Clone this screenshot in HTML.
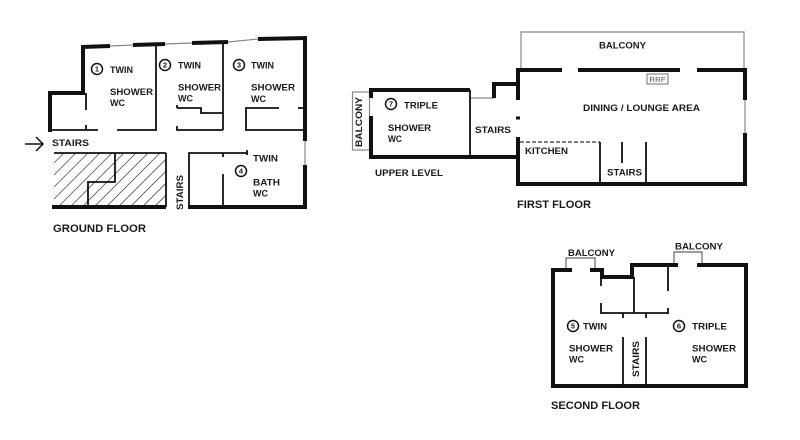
<!DOCTYPE html>
<html><head><meta charset="utf-8"><style>
html,body{margin:0;padding:0;background:#fff;}
svg{display:block;}
text{font-family:"Liberation Sans",Arial,sans-serif;font-weight:bold;fill:#1a1a1a;font-size:9.5px;}
text.t{font-size:11px;}
text.n{font-size:7.5px;text-anchor:middle;}
text.s{font-size:7px;font-weight:normal;fill:#555;}
</style></head><body>
<svg width="800" height="440" viewBox="0 0 800 440" xmlns="http://www.w3.org/2000/svg">
<defs>
<pattern id="h" patternUnits="userSpaceOnUse" width="8.5" height="8.5" patternTransform="rotate(45)">
<line x1="0" y1="0" x2="0" y2="8.5" stroke="#222" stroke-width="1.3"/>
</pattern>
</defs>
<rect width="800" height="440" fill="#fff"/>

<!-- ================= GROUND FLOOR ================= -->
<rect x="54" y="153" width="112" height="54" fill="url(#h)"/>
<g fill="none" stroke="#888" stroke-width="1.2">
<line x1="110" y1="46" x2="133" y2="45"/>
<line x1="165" y1="44" x2="192" y2="43"/>
<line x1="228" y1="42" x2="258" y2="39"/>
<line x1="305" y1="141" x2="305" y2="165"/>
</g>
<g fill="none" stroke="#111" stroke-width="4">
<line x1="82" y1="47" x2="110" y2="46"/>
<line x1="133" y1="45" x2="165" y2="44"/>
<line x1="192" y1="43" x2="228" y2="42"/>
<line x1="258" y1="39" x2="307" y2="38"/>
<polyline points="83,45 83,93 50,93 50,132"/>
<line x1="305" y1="37" x2="305" y2="141"/>
<line x1="305" y1="165" x2="305" y2="209"/>
<line x1="52" y1="207" x2="166" y2="207"/>
<line x1="188" y1="207" x2="307" y2="207"/>
</g>
<g fill="none" stroke="#111" stroke-width="1.8">
<line x1="86" y1="93" x2="86" y2="110"/>
<line x1="86" y1="125" x2="86" y2="130"/>
<line x1="50" y1="130" x2="98" y2="130"/>
<line x1="117" y1="130" x2="157" y2="130"/>
<line x1="156" y1="46" x2="156" y2="130"/>
<line x1="177" y1="105" x2="177" y2="108"/>
<polyline points="177,108 201,108 201,113 223,113"/>
<polyline points="177,126 177,130 223,130"/>
<line x1="223" y1="42" x2="223" y2="130"/>
<polyline points="246,131 246,108 279,108"/>
<line x1="298" y1="108" x2="305" y2="108"/>
<line x1="246" y1="130" x2="305" y2="130"/>
<line x1="54" y1="153" x2="166" y2="153"/>
<line x1="166" y1="153" x2="166" y2="207"/>
<polyline points="115,153 115,182 88,182 88,207"/>
<polyline points="189,207 189,153 247,153"/>
<line x1="247" y1="150" x2="247" y2="155"/>
<line x1="223" y1="153" x2="223" y2="157"/>
<line x1="223" y1="174" x2="223" y2="207"/>
</g>
<g fill="none" stroke="#111" stroke-width="1.5">
<line x1="25" y1="144" x2="43" y2="144"/>
<polyline points="36,137 43,144 36,151"/>
<circle cx="97" cy="69" r="5.5"/>
<circle cx="165" cy="65" r="5.5"/>
<circle cx="239" cy="65" r="5.5"/>
<circle cx="241" cy="171" r="5.5"/>
</g>
<text class="n" x="97" y="71.7">1</text>
<text class="n" x="165" y="67.7">2</text>
<text class="n" x="239" y="67.7">3</text>
<text class="n" x="241" y="173.7">4</text>
<text x="110" y="73" textLength="23" lengthAdjust="spacingAndGlyphs">TWIN</text>
<text x="110" y="95" textLength="43" lengthAdjust="spacingAndGlyphs">SHOWER</text>
<text x="110" y="106" textLength="15" lengthAdjust="spacingAndGlyphs">WC</text>
<text x="178" y="68.3" textLength="23" lengthAdjust="spacingAndGlyphs">TWIN</text>
<text x="178" y="90.7" textLength="43" lengthAdjust="spacingAndGlyphs">SHOWER</text>
<text x="178" y="101.7" textLength="15" lengthAdjust="spacingAndGlyphs">WC</text>
<text x="251" y="68.3" textLength="23" lengthAdjust="spacingAndGlyphs">TWIN</text>
<text x="251" y="90.7" textLength="44" lengthAdjust="spacingAndGlyphs">SHOWER</text>
<text x="251" y="102" textLength="15" lengthAdjust="spacingAndGlyphs">WC</text>
<text x="52" y="146" textLength="37" lengthAdjust="spacingAndGlyphs">STAIRS</text>
<text transform="translate(183,210) rotate(-90)" x="0" y="0" textLength="35" lengthAdjust="spacingAndGlyphs">STAIRS</text>
<text x="253" y="161.7" textLength="25" lengthAdjust="spacingAndGlyphs">TWIN</text>
<text x="253" y="185.7" textLength="27" lengthAdjust="spacingAndGlyphs">BATH</text>
<text x="253" y="196.7" textLength="15" lengthAdjust="spacingAndGlyphs">WC</text>
<text class="t" x="53" y="232" textLength="93" lengthAdjust="spacingAndGlyphs">GROUND FLOOR</text>

<!-- ================= FIRST FLOOR ================= -->
<g fill="none" stroke="#888" stroke-width="1.2">
<polyline points="521,70 521,32 744,32 744,70"/>
<line x1="745" y1="100" x2="745" y2="133"/>
<line x1="494" y1="98" x2="470" y2="98"/>
<rect x="352.5" y="92" width="17" height="58"/>
<rect x="647" y="74" width="21" height="10"/>
</g>
<g fill="none" stroke="#111" stroke-width="4">
<line x1="516" y1="70" x2="562" y2="70"/>
<line x1="578" y1="70" x2="680" y2="70"/>
<line x1="697" y1="70" x2="747" y2="70"/>
<line x1="518" y1="70" x2="518" y2="100"/>
<line x1="518" y1="116.5" x2="518" y2="119.5"/>
<line x1="518" y1="137" x2="518" y2="186"/>
<line x1="745" y1="70" x2="745" y2="100"/>
<line x1="745" y1="133" x2="745" y2="186"/>
<line x1="516" y1="184" x2="747" y2="184"/>
<polyline points="518,84 494,84 494,98"/>
<line x1="369" y1="90" x2="470" y2="90"/>
<line x1="371" y1="90" x2="371" y2="98"/>
<line x1="371" y1="116" x2="371" y2="159"/>
<line x1="369" y1="157" x2="518" y2="157"/>
</g>
<g fill="none" stroke="#111" stroke-width="1.8">
<line x1="470" y1="90" x2="470" y2="157"/>
<line x1="600" y1="142" x2="600" y2="184"/>
<line x1="622" y1="142" x2="622" y2="163"/>
<line x1="646" y1="142" x2="646" y2="184"/>
</g>
<line x1="520" y1="142" x2="600" y2="142" stroke="#333" stroke-width="1.2" stroke-dasharray="4,2"/>
<circle cx="391" cy="104" r="5.5" fill="none" stroke="#111" stroke-width="1.5"/>
<text class="n" x="391" y="106.7">7</text>
<text x="599" y="48.3" textLength="47" lengthAdjust="spacingAndGlyphs">BALCONY</text>
<text class="s" x="649.5" y="82" textLength="16" lengthAdjust="spacingAndGlyphs">RRF</text>
<text x="583" y="111" textLength="117" lengthAdjust="spacingAndGlyphs">DINING / LOUNGE AREA</text>
<text x="404" y="108.3" textLength="34" lengthAdjust="spacingAndGlyphs">TRIPLE</text>
<text x="388" y="131" textLength="43" lengthAdjust="spacingAndGlyphs">SHOWER</text>
<text x="388" y="142" textLength="14" lengthAdjust="spacingAndGlyphs">WC</text>
<text x="475" y="133" textLength="36" lengthAdjust="spacingAndGlyphs">STAIRS</text>
<text x="525" y="154" textLength="43" lengthAdjust="spacingAndGlyphs">KITCHEN</text>
<text x="607" y="175.7" textLength="35" lengthAdjust="spacingAndGlyphs">STAIRS</text>
<text x="375" y="176" textLength="68" lengthAdjust="spacingAndGlyphs">UPPER LEVEL</text>
<text transform="translate(362,147) rotate(-90)" x="0" y="0" textLength="50" lengthAdjust="spacingAndGlyphs">BALCONY</text>
<text class="t" x="517" y="208" textLength="74" lengthAdjust="spacingAndGlyphs">FIRST FLOOR</text>

<!-- ================= SECOND FLOOR ================= -->
<g fill="none" stroke="#666" stroke-width="1.2">
<polyline points="566,270 566,258 595,258 595,270"/>
<polyline points="674,265 674,252 702,252 702,265"/>
</g>
<g fill="none" stroke="#111" stroke-width="4">
<line x1="553" y1="268" x2="553" y2="388"/>
<line x1="551" y1="386" x2="748" y2="386"/>
<line x1="746" y1="263" x2="746" y2="388"/>
<line x1="551" y1="270" x2="572" y2="270"/>
<polyline points="590,270 602,270 602,277 632,277 632,265 678,265"/>
<line x1="697" y1="265" x2="748" y2="265"/>
</g>
<g fill="none" stroke="#111" stroke-width="1.8">
<line x1="601" y1="277" x2="601" y2="286"/>
<polyline points="601,303 601,313 669,313"/>
<line x1="668" y1="308" x2="668" y2="313"/>
<line x1="668" y1="267" x2="668" y2="291"/>
<line x1="634" y1="277" x2="634" y2="313"/>
<line x1="623" y1="313" x2="623" y2="318"/>
<line x1="646" y1="313" x2="646" y2="318"/>
<line x1="623" y1="337" x2="623" y2="386"/>
<line x1="646" y1="337" x2="646" y2="386"/>
</g>
<g fill="none" stroke="#111" stroke-width="1.5">
<circle cx="573" cy="326" r="5.5"/>
<circle cx="679" cy="326" r="5.5"/>
</g>
<text class="n" x="573" y="328.7">5</text>
<text class="n" x="679" y="328.7">6</text>
<text x="568" y="256" textLength="47" lengthAdjust="spacingAndGlyphs">BALCONY</text>
<text x="675" y="249.3" textLength="48" lengthAdjust="spacingAndGlyphs">BALCONY</text>
<text x="583" y="329.5" textLength="24" lengthAdjust="spacingAndGlyphs">TWIN</text>
<text x="692" y="329.5" textLength="35" lengthAdjust="spacingAndGlyphs">TRIPLE</text>
<text x="569" y="351.7" textLength="44" lengthAdjust="spacingAndGlyphs">SHOWER</text>
<text x="569" y="362.5" textLength="15" lengthAdjust="spacingAndGlyphs">WC</text>
<text x="692" y="351.7" textLength="44" lengthAdjust="spacingAndGlyphs">SHOWER</text>
<text x="692" y="362.5" textLength="15" lengthAdjust="spacingAndGlyphs">WC</text>
<text transform="translate(639,377) rotate(-90)" x="0" y="0" textLength="36" lengthAdjust="spacingAndGlyphs">STAIRS</text>
<text class="t" x="551" y="409" textLength="89" lengthAdjust="spacingAndGlyphs">SECOND FLOOR</text>
</svg>
</body></html>
